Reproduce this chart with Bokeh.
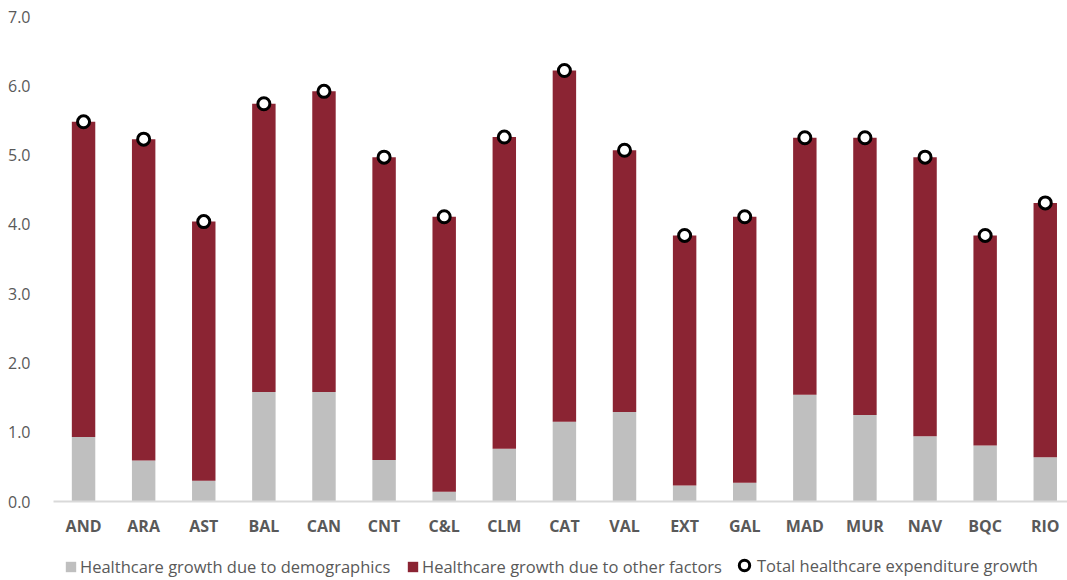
from bokeh.plotting import figure
from bokeh.layouts import column
from bokeh.models import (ColumnDataSource, FixedTicker, NumeralTickFormatter,
                          Legend, LegendItem, Range1d)
from bokeh.embed import file_html
from bokeh.resources import INLINE

# Regional healthcare expenditure growth (percentage points)
regions = ["AND", "ARA", "AST", "BAL", "CAN", "CNT", "C&L", "CLM", "CAT",
           "VAL", "EXT", "GAL", "MAD", "MUR", "NAV", "BQC", "RIO"]
demographics = [0.93, 0.59, 0.30, 1.58, 1.58, 0.60, 0.14, 0.76, 1.15,
                1.29, 0.23, 0.27, 1.54, 1.25, 0.94, 0.81, 0.64]
other_factors = [4.55, 4.64, 3.74, 4.16, 4.34, 4.37, 3.97, 4.50, 5.07,
                 3.78, 3.61, 3.84, 3.71, 4.00, 4.03, 3.03, 3.67]
y_ticks = [0, 1, 2, 3, 4, 5, 6, 7]

legend_labels = ["Healthcare growth due to demographics",
                 "Healthcare growth due to other factors",
                 "Total healthcare expenditure growth"]

GREY = "#BFBFBF"
MAROON = "#8B2433"
TEXT = "#595959"
FONT = "Open Sans"

pos = list(range(len(regions)))
total = [round(d + o, 2) for d, o in zip(demographics, other_factors)]

src = ColumnDataSource(dict(x=pos, demo=demographics, other=other_factors,
                            total=total))

BAR_W = 0.39
BAR_STYLE = [dict(fill_color=GREY, line_color=None),
             dict(fill_color=MAROON, line_color=None)]
DOT_STYLE = dict(marker="circle", fill_color="white", line_color="black",
                 line_width=3)


def add_marks(fig):
    """Stacked bars plus the total markers; returns the three renderers."""
    r_demo = fig.vbar(x="x", bottom=0, top="demo", width=BAR_W, source=src,
                      **BAR_STYLE[0])
    r_other = fig.vbar(x="x", bottom="demo", top="total", width=BAR_W,
                       source=src, **BAR_STYLE[1])
    r_total = fig.scatter(x="x", y="total", source=src, size=12, **DOT_STYLE)
    return r_demo, r_other, r_total


# ---- main chart ----
p = figure(width=1067, height=545, output_backend="svg", toolbar_location=None,
           x_range=Range1d(-0.5, 16.37), y_range=Range1d(0, 7),
           min_border_left=53, min_border_right=0, min_border_top=16,
           min_border_bottom=44)
p.outline_line_color = None
p.border_fill_color = "white"
p.xgrid.visible = False
p.ygrid.visible = False
add_marks(p)

xa = p.xaxis[0]
xa.ticker = FixedTicker(ticks=pos)
xa.major_label_overrides = {i: name for i, name in zip(pos, regions)}
xa.axis_line_color = "#D9D9D9"
xa.axis_line_width = 2
xa.major_tick_line_color = None
xa.minor_tick_line_color = None
xa.major_label_standoff = 7
xa.major_label_text_font = FONT
xa.major_label_text_font_style = "bold"
xa.major_label_text_font_size = "16px"
xa.major_label_text_color = TEXT

ya = p.yaxis[0]
ya.ticker = FixedTicker(ticks=y_ticks)
ya.formatter = NumeralTickFormatter(format="0.0")
ya.axis_line_color = None
ya.major_tick_line_color = None
ya.minor_tick_line_color = None
ya.major_label_standoff = 17
ya.major_label_text_font = FONT
ya.major_label_text_font_size = "16px"
ya.major_label_text_color = TEXT

# ---- legend strip under the chart ----
# Same marks, kept outside this strip's visible ranges; only the keys show.
lg = figure(width=1067, height=35, output_backend="svg", toolbar_location=None,
            x_range=Range1d(100, 101), y_range=Range1d(100, 101),
            x_axis_location=None, y_axis_location=None,
            min_border=0)
lg.outline_line_color = None
lg.xgrid.visible = False
lg.ygrid.visible = False
keys = add_marks(lg)


def add_key(label, renderer, x, glyph, standoff):
    leg = Legend(items=[LegendItem(label=label, renderers=[renderer])],
                 location=(x, 2), orientation="horizontal",
                 glyph_width=glyph, glyph_height=glyph, label_standoff=standoff,
                 label_height=20, padding=0, margin=0, spacing=0,
                 border_line_color=None, background_fill_alpha=0,
                 label_text_font=FONT, label_text_font_size="16.5px",
                 label_text_color=TEXT)
    lg.add_layout(leg, "center")


# offsets are measured from the strip's frame, which lines up with the chart's
add_key(legend_labels[0], keys[0], 11, 13, 3)
add_key(legend_labels[1], keys[1], 353, 13, 3)
add_key(legend_labels[2], keys[2], 678, 26, -4)

open("out.html", "w").write(file_html(column(p, lg, spacing=0), INLINE))
